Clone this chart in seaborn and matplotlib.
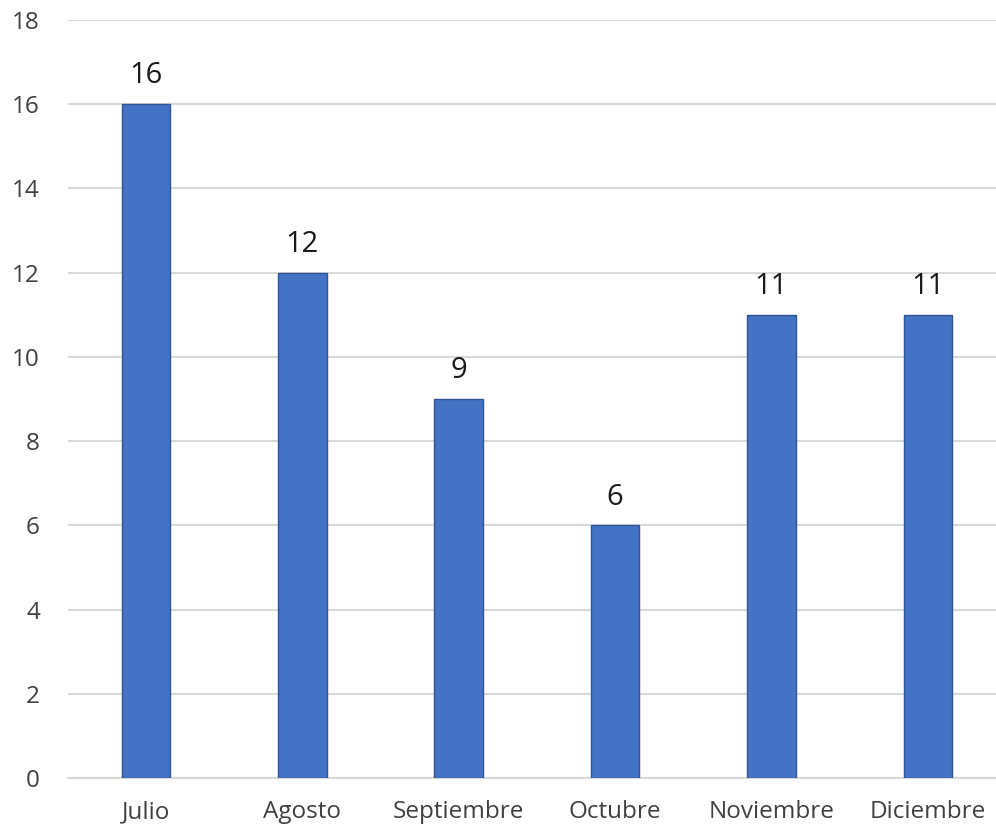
import pandas as pd
import seaborn as sns
import matplotlib.pyplot as plt

# Data
months = ['Julio', 'Agosto', 'Septiembre', 'Octubre', 'Noviembre', 'Diciembre']
counts = [16, 12, 9, 6, 11, 11]

df = pd.DataFrame({'mes': months, 'valor': counts})

sns.set_style('white')
plt.rcParams['font.family'] = ['Open Sans', 'DejaVu Sans']

fig = plt.figure(figsize=(9.96, 8.34), dpi=100)
# axes run slightly past the right edge, like the original
ax = fig.add_axes([0.068, 0.067, 0.942, 0.909])

sns.barplot(data=df, x='mes', y='valor', color='#4472C4', width=0.31,
            edgecolor='#2F5597', linewidth=1, saturation=1, ax=ax, zorder=3)

# Value labels
for container in ax.containers:
    ax.bar_label(container, padding=10, fontsize=21, color='#1a1a1a')

ax.set_ylim(0, 18)
ax.set_xlim(-0.5, 5.5)
ax.set_yticks(range(0, 19, 2))
ax.yaxis.grid(True, color='#D9D9D9', linewidth=1.5, zorder=0)
ax.set_axisbelow(True)
for s in ['top', 'right', 'left']:
    ax.spines[s].set_visible(False)
ax.spines['bottom'].set_color('#D9D9D9')
ax.spines['bottom'].set_linewidth(1.5)
ax.tick_params(axis='both', length=0, labelsize=17.5, labelcolor='#404040')
ax.tick_params(axis='x', pad=16)
ax.tick_params(axis='y', pad=20)
ax.set_xlabel('')
ax.set_ylabel('')

plt.savefig('out.png', dpi=100)
